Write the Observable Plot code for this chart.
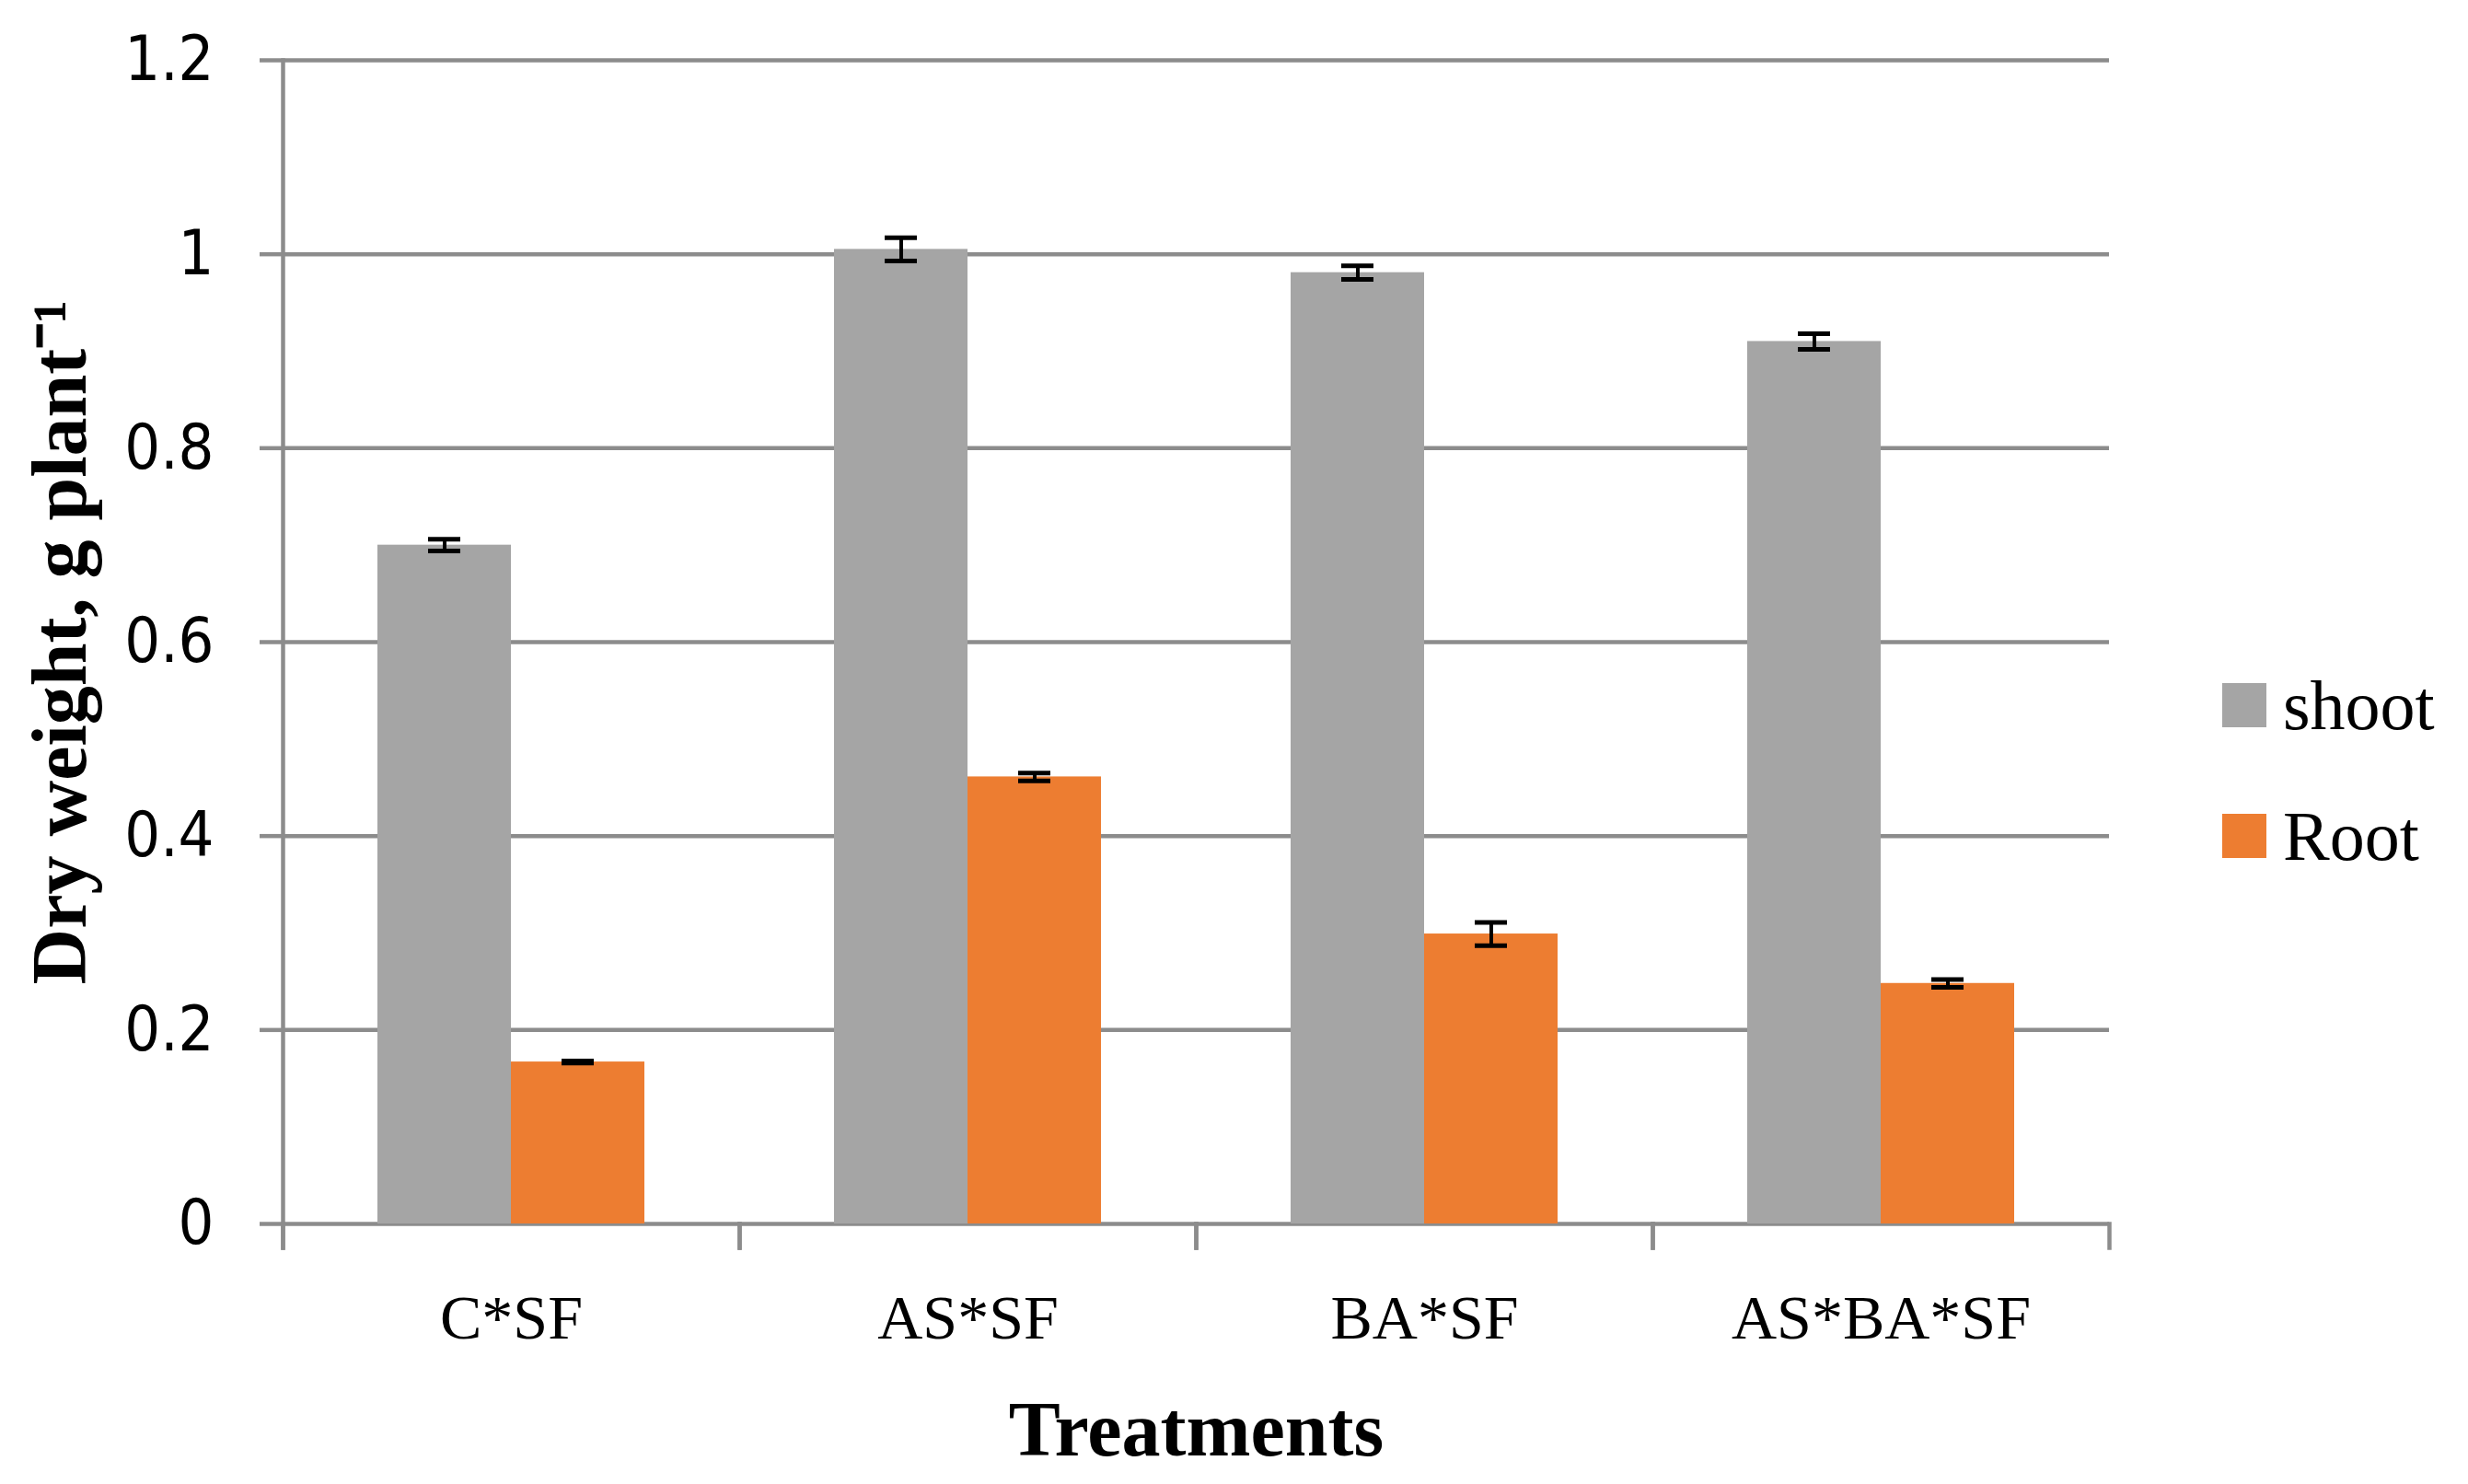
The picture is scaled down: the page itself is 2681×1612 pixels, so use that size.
<!DOCTYPE html>
<html>
<head>
<meta charset="utf-8">
<script src="https://cdn.jsdelivr.net/npm/d3@7"></script>
<script src="https://cdn.jsdelivr.net/npm/@observablehq/plot@0.6"></script>
<style>
  html, body { margin: 0; padding: 0; background: #ffffff; }
  #wrap { position: relative; width: 2681px; height: 1612px; overflow: hidden; }
  #legend { position: absolute; left: 2414px; top: 0; font-family: "Liberation Serif", "Times New Roman", serif; font-size: 76px; color: #000; }
  .item { position: absolute; left: 0; display: flex; align-items: center; height: 80px; white-space: nowrap; }
  .sw { width: 48px; height: 48px; margin-right: 18px; }
</style>
</head>
<body>
<div id="wrap"><div id="legend"></div></div>
<script>
// ---- data ----
const treatments = ["C*SF", "AS*SF", "BA*SF", "AS*BA*SF"];
const seriesNames = ["shoot", "Root"];
const seriesColors = ["#a5a5a5", "#ed7d31"];
const shootMean = [0.700, 1.005, 0.981, 0.910];
const shootErr  = [0.006, 0.012, 0.007, 0.008];
const rootMean  = [0.167, 0.461, 0.299, 0.248];
const rootErr   = [0.001, 0.004, 0.012, 0.004];
const yTicks = [0, 0.2, 0.4, 0.6, 0.8, 1, 1.2];
const yTickLabels = ["0", "0.2", "0.4", "0.6", "0.8", "1", "1.2"];
const xTitle = "Treatments";
const yTitle = "Dry weight, g plant\u207B\u00B9";

// table built from the arrays
const rows = treatments.flatMap((t, i) => [
  {treatment: t, series: seriesNames[0], mean: shootMean[i], err: shootErr[i]},
  {treatment: t, series: seriesNames[1], mean: rootMean[i], err: rootErr[i]}
]).map(d => ({...d, lo: d.mean - d.err, hi: d.mean + d.err}));

const gridColor = "#8c8c8c";
const gridW = 4.5;
const serif = "'Liberation Serif', 'Times New Roman', serif";
const sans = "'DejaVu Sans Condensed', 'DejaVu Sans', sans-serif";

const W = 2681, H = 1612, mL = 305, mR = 389, mT = 65, mB = 283;
const innerH = H - mT - mB;

const chart = Plot.plot({
  width: W,
  height: H,
  marginLeft: mL,
  marginRight: mR,
  marginTop: mT,
  marginBottom: mB,
  style: {background: "#ffffff", overflow: "visible"},
  fx: {domain: treatments, padding: 0, label: null},
  x: {domain: seriesNames, paddingInner: 0, paddingOuter: 0.7, axis: null},
  y: {domain: [0, 1.2], label: null},
  color: {domain: seriesNames, range: seriesColors},
  marks: [
    Plot.gridY(yTicks, {stroke: gridColor, strokeOpacity: 1, strokeWidth: gridW}),
    Plot.axisY(yTicks, {
      anchor: "left", tickSize: 25, tickPadding: 50, stroke: gridColor, strokeOpacity: 1, strokeWidth: gridW,
      tickFormat: d => yTickLabels[yTicks.indexOf(d)], fontSize: 68, fontFamily: sans, fill: "#000", label: null
    }),
    Plot.axisFx({anchor: "bottom", tickSize: 0, tickPadding: 76, fontSize: 68, fontFamily: serif, fill: "#000", label: null}),
    Plot.frame({anchor: "left", stroke: gridColor, strokeWidth: gridW, insetTop: innerH, insetBottom: -26}),
    Plot.frame({anchor: "right", stroke: gridColor, strokeWidth: gridW, insetTop: innerH, insetBottom: -26}),
    Plot.frame({anchor: "left", facet: "super", stroke: gridColor, strokeWidth: gridW, insetBottom: -26}),
    Plot.barY(rows, {fx: "treatment", x: "series", y: "mean", fill: "series"}),
    Plot.ruleX(rows, {fx: "treatment", x: "series", y1: "lo", y2: "hi", stroke: "#000", strokeWidth: 4}),
    Plot.tickY(rows, {fx: "treatment", x: "series", y: "lo", stroke: "#000", strokeWidth: 5, insetLeft: 55, insetRight: 55}),
    Plot.tickY(rows, {fx: "treatment", x: "series", y: "hi", stroke: "#000", strokeWidth: 5, insetLeft: 55, insetRight: 55}),
    Plot.text([xTitle], {frameAnchor: "bottom", facet: "super", dy: 225, lineAnchor: "middle", textAnchor: "middle", fontSize: 84, fontWeight: "bold", fontFamily: serif, fill: "#000"}),
    Plot.text([yTitle], {frameAnchor: "left", facet: "super", dx: -274, rotate: -90, lineAnchor: "top", textAnchor: "middle", fontSize: 84, fontWeight: "bold", fontFamily: serif, fill: "#000"})
  ]
});
document.getElementById("wrap").prepend(chart);

// legend (HTML, beside the plot area)
const legend = document.getElementById("legend");
const tops = [726, 868];
seriesNames.forEach((s, i) => {
  const it = document.createElement("div");
  it.className = "item";
  it.style.top = tops[i] + "px";
  const sw = document.createElement("span");
  sw.className = "sw";
  sw.style.background = seriesColors[i];
  const tx = document.createElement("span");
  tx.textContent = s;
  it.append(sw, tx);
  legend.append(it);
});
</script>
</body>
</html>
